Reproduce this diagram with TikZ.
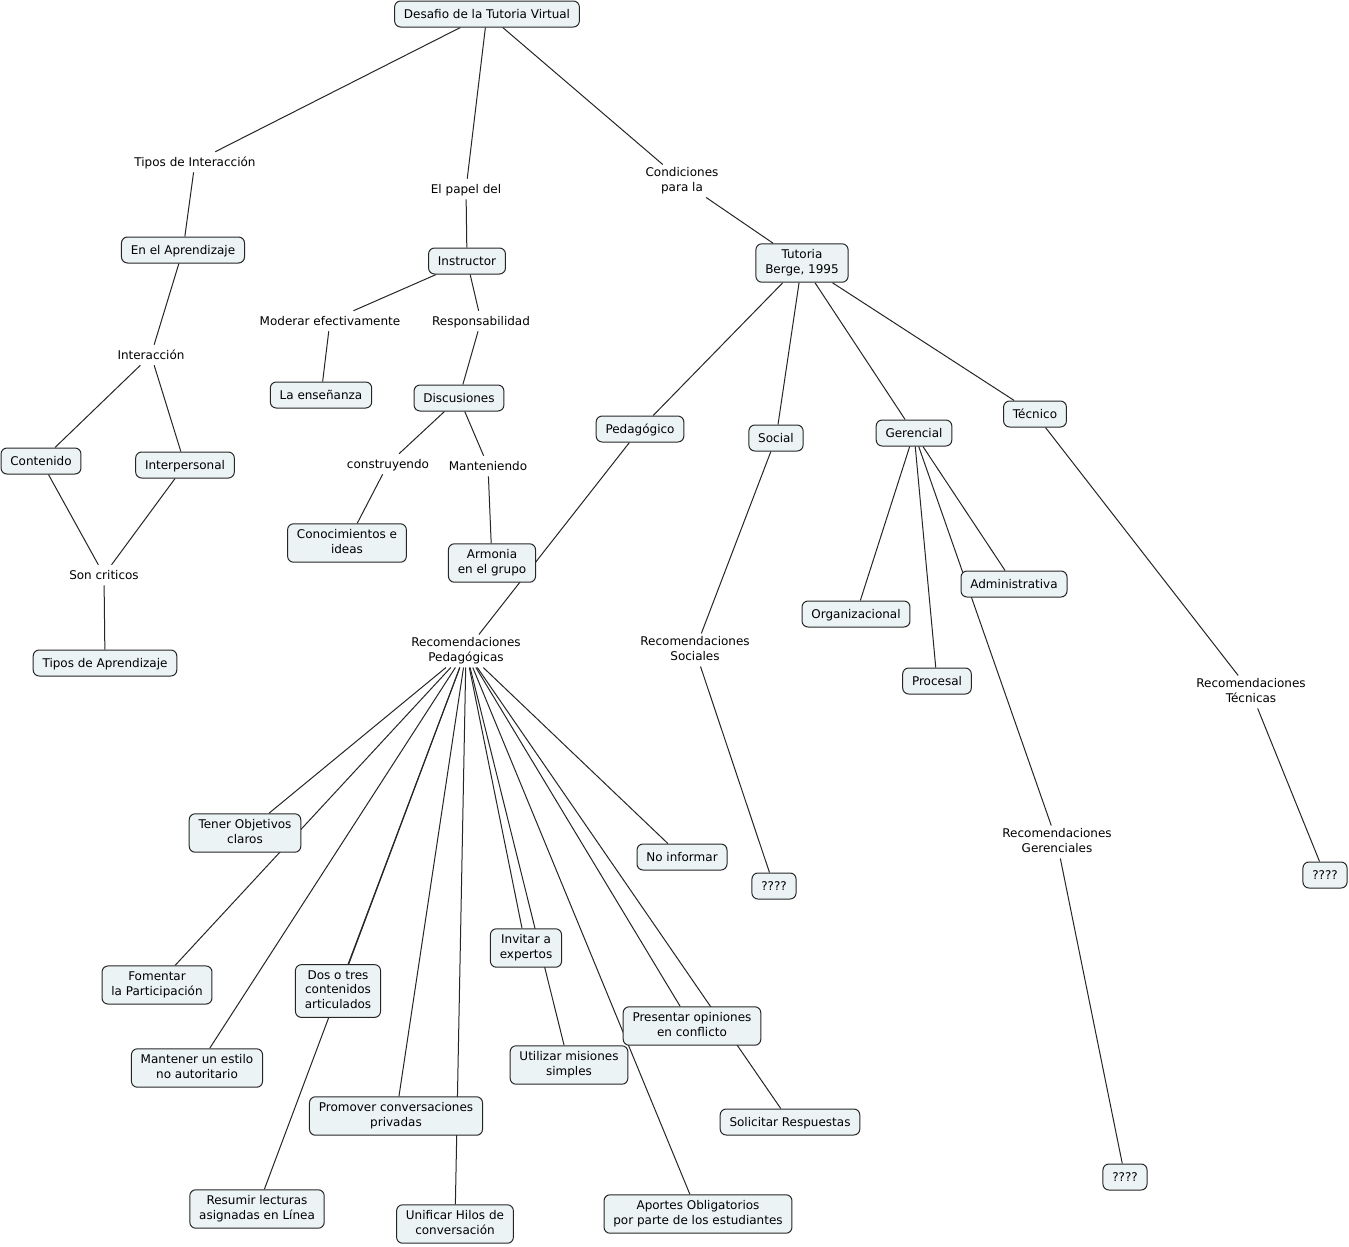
\documentclass[tikz,border=0pt]{standalone}
\usepackage{fontspec}
\setmainfont{DejaVu Sans}
\usetikzlibrary{backgrounds}
\definecolor{cfill}{RGB}{236,243,245}
\newcommand{\topstrut}{\rule{0pt}{8.5pt}}
\newcommand{\botstrut}{\rule[-2.5pt]{0pt}{2.5pt}}
\begin{document}
\begin{tikzpicture}[x=0.75pt,y=-0.75pt,
  concept/.style={draw=black!85, fill=cfill, rounded corners=4.5pt, line width=0.75pt,
    font=\fontsize{9}{11}\selectfont, align=center, inner xsep=7pt, inner ysep=4.25pt,
    execute at begin node=\topstrut, execute at end node=\botstrut},
  link/.style={font=\fontsize{9}{11}\selectfont, align=center, inner sep=2pt,
    execute at begin node=\topstrut, execute at end node=\botstrut},
  conn/.style={line width=0.75pt, draw=black!85}]
\useasboundingbox (0,0) rectangle (1349,1246);
% concepts
\node[concept] (desafio) at (487,14) {Desafio de la Tutoria Virtual};
\node[concept] (enaprend) at (183,250) {En el Aprendizaje};
\node[concept] (instructor) at (467,261) {Instructor};
\node[concept] (tutoria) at (802,263) {Tutoria\\Berge, 1995};
\node[concept] (ensenanza) at (321,395) {La enseñanza};
\node[concept] (discusiones) at (459,398) {Discusiones};
\node[concept] (contenido) at (41,461) {Contenido};
\node[concept] (interpersonal) at (185,465) {Interpersonal};
\node[concept] (tiposaprend) at (105,663) {Tipos de Aprendizaje};
\node[concept] (conocimientos) at (347,543) {Conocimientos e\\ideas};
\node[concept] (armonia) at (492,563) {Armonia\\en el grupo};
\node[concept] (pedagogico) at (640,429) {Pedagógico};
\node[concept] (social) at (776,438) {Social};
\node[concept] (gerencial) at (914,433) {Gerencial};
\node[concept] (tecnico) at (1035,414) {Técnico};
\node[concept] (organizacional) at (856,614) {Organizacional};
\node[concept] (procesal) at (937,681) {Procesal};
\node[concept] (administrativa) at (1014,584) {Administrativa};
\node[concept] (qa) at (774,886) {????};
\node[concept] (qb) at (1125,1177) {????};
\node[concept] (qc) at (1325,875) {????};
\node[concept] (tener) at (245,833) {Tener Objetivos\\claros};
\node[concept] (noinformar) at (682,857) {No informar};
\node[concept] (fomentar) at (157,985) {Fomentar\\la Participación};
\node[concept] (dostres) at (338,991) {Dos o tres\\contenidos\\articulados};
\node[concept] (invitar) at (526,948) {Invitar a\\expertos};
\node[concept] (mantener) at (197,1068) {Mantener un estilo\\no autoritario};
\node[concept] (presentar) at (692,1026) {Presentar opiniones\\en conflicto};
\node[concept] (utilizar) at (569,1065) {Utilizar misiones\\simples};
\node[concept] (solicitar) at (790,1122) {Solicitar Respuestas};
\node[concept] (promover) at (396,1116) {Promover conversaciones\\privadas};
\node[concept] (resumir) at (257,1209) {Resumir lecturas\\asignadas en Línea};
\node[concept] (unificar) at (455,1224) {Unificar Hilos de\\conversación};
\node[concept] (aportes) at (698,1214) {Aportes Obligatorios\\por parte de los estudiantes};
% linking phrases
\node[link] (tiposint) at (195,162) {Tipos de Interacción};
\node[link] (papel) at (466,189) {El papel del};
\node[link] (condiciones) at (682,181) {Condiciones\\para la};
\node[link] (interaccion) at (151,355) {Interacción};
\node[link] (moderar) at (330,321) {Moderar efectivamente};
\node[link] (respons) at (481,321) {Responsabilidad};
\node[link] (construyendo) at (388,464) {construyendo};
\node[link] (manteniendo) at (488,466) {Manteniendo};
\node[link] (soncrit) at (104,575) {Son criticos};
\node[link] (recped) at (466,651) {Recomendaciones\\Pedagógicas};
\node[link] (recsoc) at (695,650) {Recomendaciones\\Sociales};
\node[link] (recger) at (1057,842) {Recomendaciones\\Gerenciales};
\node[link] (rectec) at (1251,692) {Recomendaciones\\Técnicas};
% connectors
\begin{pgfonlayer}{background}
\fill[white] (0,0) rectangle (1349,1246);
\draw[conn] (desafio) -- (tiposint);
\draw[conn] (tiposint) -- (enaprend);
\draw[conn] (desafio) -- (papel);
\draw[conn] (papel) -- (instructor);
\draw[conn] (desafio) -- (condiciones);
\draw[conn] (condiciones) -- (tutoria);
\draw[conn] (enaprend) -- (interaccion);
\draw[conn] (interaccion) -- (contenido);
\draw[conn] (interaccion) -- (interpersonal);
\draw[conn] (contenido) -- (soncrit);
\draw[conn] (interpersonal) -- (soncrit);
\draw[conn] (soncrit) -- (tiposaprend);
\draw[conn] (instructor) -- (moderar);
\draw[conn] (moderar) -- (ensenanza);
\draw[conn] (instructor) -- (respons);
\draw[conn] (respons) -- (discusiones);
\draw[conn] (discusiones) -- (construyendo);
\draw[conn] (construyendo) -- (conocimientos);
\draw[conn] (discusiones) -- (manteniendo);
\draw[conn] (manteniendo) -- (armonia);
\draw[conn] (tutoria) -- (pedagogico);
\draw[conn] (tutoria) -- (social);
\draw[conn] (tutoria) -- (gerencial);
\draw[conn] (tutoria) -- (tecnico);
\draw[conn] (pedagogico) -- (recped);
\draw[conn] (recped) -- (tener);
\draw[conn] (recped) -- (fomentar);
\draw[conn] (recped) -- (mantener);
\draw[conn] (recped) -- (dostres);
\draw[conn] (recped) -- (resumir);
\draw[conn] (recped) -- (promover);
\draw[conn] (recped) -- (unificar);
\draw[conn] (recped) -- (invitar);
\draw[conn] (recped) -- (utilizar);
\draw[conn] (recped) -- (aportes);
\draw[conn] (recped) -- (presentar);
\draw[conn] (recped) -- (solicitar);
\draw[conn] (recped) -- (noinformar);
\draw[conn] (social) -- (recsoc);
\draw[conn] (recsoc) -- (qa);
\draw[conn] (gerencial) -- (organizacional);
\draw[conn] (gerencial) -- (procesal);
\draw[conn] (gerencial) -- (administrativa);
\draw[conn] (gerencial) -- (recger);
\draw[conn] (recger) -- (qb);
\draw[conn] (tecnico) -- (rectec);
\draw[conn] (rectec) -- (qc);
\end{pgfonlayer}
\end{tikzpicture}
\end{document}
